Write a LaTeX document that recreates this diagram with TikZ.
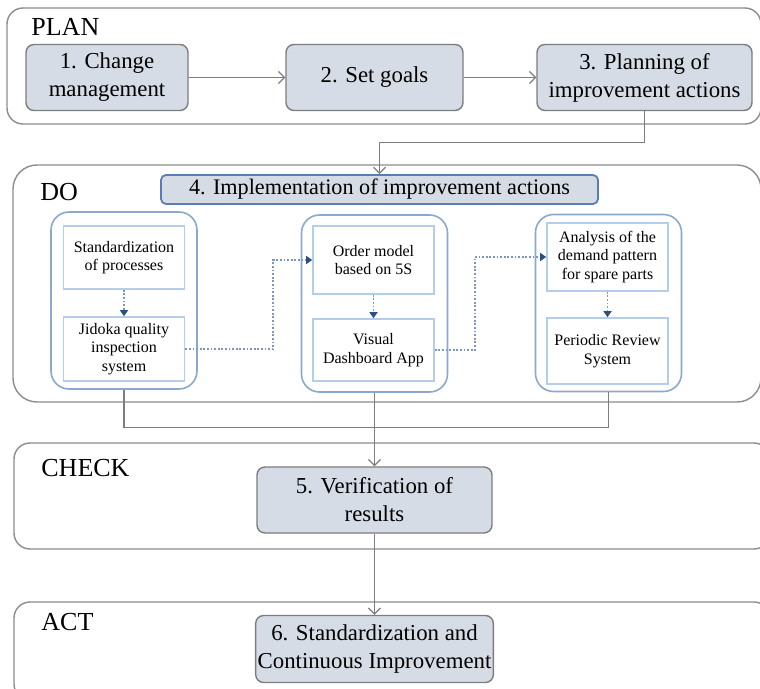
\documentclass[tikz,border=0pt]{standalone}
\usepackage{fontspec}
\setmainfont{Liberation Serif}
\usetikzlibrary{arrows.meta}
\definecolor{boxfill}{RGB}{214,220,229}
\definecolor{boxline}{RGB}{125,125,125}
\definecolor{phaseline}{RGB}{140,140,140}
\definecolor{implline}{RGB}{90,125,180}
\definecolor{grpline}{RGB}{140,168,205}
\definecolor{taskline}{RGB}{180,205,235}
\definecolor{dotline}{RGB}{125,150,185}
\definecolor{tipblue}{RGB}{40,80,130}

\begin{document}
\begin{tikzpicture}[x=0.5pt, y=-0.5pt,
  phase/.style = {draw=phaseline, line width=0.7pt, rounded corners=8pt},
  phasename/.style = {anchor=base west, inner sep=0pt, font=\fontsize{13}{15}\selectfont},
  stepbox/.style = {draw=boxline, fill=boxfill, line width=0.7pt, rounded corners=4pt, align=center, inner sep=1pt, minimum height=33pt, font=\fontsize{11.4}{14}\selectfont},
  implbox/.style = {draw=implline, fill=boxfill, line width=0.9pt, rounded corners=2.5pt, align=center, inner sep=0pt, minimum width=218.5pt, minimum height=14.5pt, font=\fontsize{11.1}{13}\selectfont},
  group/.style = {draw=grpline, line width=0.8pt, rounded corners=9pt, minimum width=73pt, minimum height=88.5pt},
  task/.style = {draw=taskline, line width=0.8pt, align=center, inner sep=0pt, minimum width=60.5pt, font=\fontsize{8}{9.2}\selectfont},
  flow/.style = {draw=boxline, line width=0.6pt, -{Straight Barb[length=3pt,width=6pt]}},
  link/.style = {draw=boxline, line width=0.6pt},
  dotlink/.style = {draw=dotline, line width=0.9pt, dash pattern=on 0.9pt off 0.9pt, -{Triangle[length=3pt,width=4pt,color=tipblue]}}]
\useasboundingbox (0,0) rectangle (760,689);

\node[phase, minimum width=377pt, minimum height=58pt] (plan) at (384,66) {};
\node[phase, rounded corners=12pt, minimum width=374pt, minimum height=118.5pt] (do) at (387,283.5) {};
\node[phase, minimum width=378pt, minimum height=53pt] (check) at (392,496) {};
\node[phase, minimum width=378pt, minimum height=49pt] (act) at (392,651) {};

\node[phasename] (planname) at (31,36) {PLAN};
\node[phasename] (doname) at (40,201) {DO};
\node[phasename] (checkname) at (41,476) {CHECK};
\node[phasename] (actname) at (41,630) {ACT};

\node[stepbox, minimum width=81pt] (change) at (107,77.5) {1. Change\\management};
\node[stepbox, minimum width=88.5pt] (goals) at (374.5,77.5) {2. Set goals};
\node[stepbox, minimum width=107.5pt] (planning) at (644.5,77.5) {3. Planning of\\improvement actions};
\node[implbox] (impl) at (379.5,189.5) {4. Implementation of improvement actions};

\node[group] (grpa) at (124,300.5) {};
\node[group] (grpb) at (374.5,303.5) {};
\node[group] (grpc) at (608.5,303) {};

\node[task, minimum height=31.5pt] (standard) at (124,257.5) {Standardization\\of processes};
\node[task, minimum height=32pt] (jidoka) at (124,349) {Jidoka quality\\inspection\\system};
\node[task, minimum height=34pt] (order) at (373.5,260) {Order model\\based on 5S};
\node[task, minimum height=31pt] (dashboard) at (373.5,350) {Visual\\Dashboard App};
\node[task, minimum height=34pt] (demand) at (607.5,257) {Analysis of the\\demand pattern\\for spare parts};
\node[task, minimum height=33pt] (review) at (607.5,351) {Periodic Review\\System};

\node[stepbox, minimum width=117.5pt] (verify) at (374.5,500) {5. Verification of\\results};
\node[stepbox, minimum width=117.5pt, minimum height=33.5pt] (improve) at (374.5,649) {6. Standardization and\\Continuous Improvement};

\draw[flow] (change) -- (goals);
\draw[flow] (goals) -- (planning);
\draw[flow] (planning.south) -- ++(0,31) -| (impl.north);

\draw[dotlink] (standard) -- (jidoka);
\draw[dotlink] (order) -- (dashboard);
\draw[dotlink] (demand) -- (review);
\draw[dotlink] (jidoka.east) -- ++(88,0) |- (order.west);
\draw[dotlink] (dashboard.east) -- ++(40,0) |- (demand.west);

\draw[link] (grpa.south) -- ++(0,38) -| (grpc.south);
\draw[flow] (grpb.south) -- (verify.north);
\draw[flow] (verify) -- (improve);
\end{tikzpicture}
\end{document}
